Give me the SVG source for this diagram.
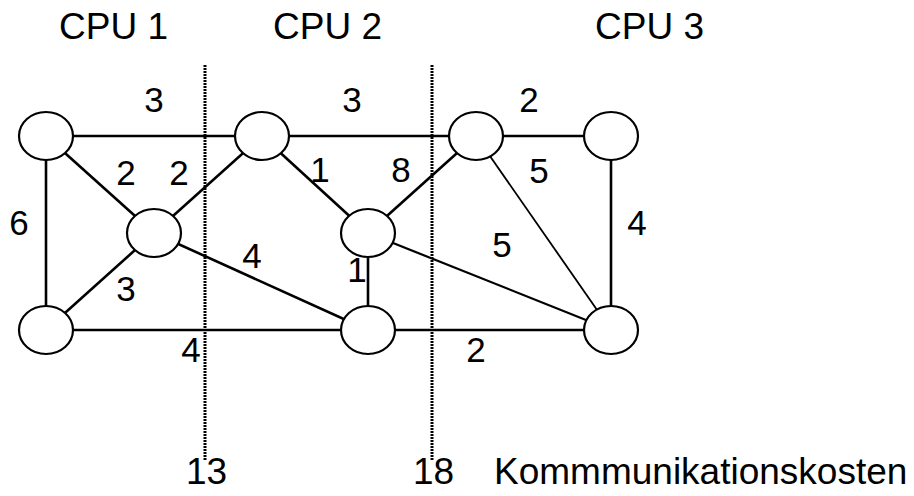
<svg xmlns="http://www.w3.org/2000/svg" width="914" height="496" viewBox="0 0 914 496">
  <style>
    .edge { stroke: #000; stroke-width: 2.6; fill: none; }
    .thin { stroke-width: 1.8; }
    .mid { stroke-width: 2.2; }
    .node ellipse { fill: #fff; stroke: #000; stroke-width: 2.2; }
    .cut { stroke: #000; stroke-width: 3; stroke-dasharray: 2 1; fill: none; }
    .lbl { font-family: "Liberation Sans", Arial, sans-serif; font-size: 35px; fill: #000; text-anchor: middle; }
    .big { font-family: "Liberation Sans", Arial, sans-serif; font-size: 37px; fill: #000; }
  </style>
  <rect width="914" height="496" fill="#fff"/>

  <!-- processor headings -->
  <g id="headings">
    <text class="big" x="59" y="39">CPU 1</text>
    <text class="big" x="273" y="39">CPU 2</text>
    <text class="big" x="595" y="39">CPU 3</text>
  </g>

  <!-- edges between tasks -->
  <g id="connectors">
    <line class="edge" x1="46" y1="136" x2="476" y2="136"/>
    <line class="edge" x1="476" y1="136" x2="611" y2="136"/>
    <line class="edge" x1="46" y1="136" x2="46" y2="330"/>
    <line class="edge" x1="46" y1="136" x2="154" y2="233"/>
    <line class="edge" x1="154" y1="233" x2="262" y2="136"/>
    <line class="edge" x1="154" y1="233" x2="46" y2="330"/>
    <line class="edge" x1="154" y1="233" x2="368" y2="330"/>
    <line class="edge" x1="46" y1="330" x2="611" y2="330"/>
    <line class="edge" x1="262" y1="136" x2="368" y2="233"/>
    <line class="edge" x1="368" y1="233" x2="476" y2="136"/>
    <line class="edge" x1="368" y1="233" x2="368" y2="330"/>
    <line class="edge mid" x1="368" y1="233" x2="611" y2="330"/>
    <line class="edge thin" x1="476" y1="136" x2="611" y2="330"/>
    <line class="edge" x1="611" y1="136" x2="611" y2="330"/>
  </g>

  <!-- partition cuts -->
  <g id="cuts">
    <line class="cut" x1="205" y1="65" x2="205" y2="460"/>
    <line class="cut" x1="432" y1="65" x2="432" y2="460"/>
  </g>

  <!-- tasks -->
  <g id="n1" class="node"><ellipse cx="46" cy="136" rx="27" ry="24"/></g>
  <g id="n2" class="node"><ellipse cx="262" cy="136" rx="27" ry="24"/></g>
  <g id="n3" class="node"><ellipse cx="476" cy="136" rx="27" ry="24"/></g>
  <g id="n4" class="node"><ellipse cx="611" cy="136" rx="27" ry="24"/></g>
  <g id="n5" class="node"><ellipse cx="154" cy="233" rx="27" ry="24"/></g>
  <g id="n6" class="node"><ellipse cx="368" cy="233" rx="27" ry="24"/></g>
  <g id="n7" class="node"><ellipse cx="46" cy="330" rx="27" ry="24"/></g>
  <g id="n8" class="node"><ellipse cx="368" cy="330" rx="27" ry="24"/></g>
  <g id="n9" class="node"><ellipse cx="611" cy="330" rx="27" ry="24"/></g>

  <!-- edge weights -->
  <g id="weights">
    <text class="lbl" x="154" y="112">3</text>
    <text class="lbl" x="126" y="185">2</text>
    <text class="lbl" x="179" y="185">2</text>
    <text class="lbl" x="19" y="235">6</text>
    <text class="lbl" x="126" y="301">3</text>
    <text class="lbl" x="252" y="268">4</text>
    <text class="lbl" x="191" y="362">4</text>
    <text class="lbl" x="352" y="112">3</text>
    <text class="lbl" x="529" y="112">2</text>
    <text class="lbl" x="320" y="182">1</text>
    <text class="lbl" x="401" y="182">8</text>
    <text class="lbl" x="539" y="183">5</text>
    <text class="lbl" x="637" y="235">4</text>
    <text class="lbl" x="502" y="257">5</text>
    <text class="lbl" x="357" y="282">1</text>
    <text class="lbl" x="476" y="362">2</text>
  </g>

  <!-- cut costs -->
  <g id="costs">
    <text class="big" x="186" y="484">13</text>
    <text class="big" x="413" y="484">18</text>
    <text class="big" x="494" y="484">Kommmunikationskosten</text>
  </g>
</svg>
